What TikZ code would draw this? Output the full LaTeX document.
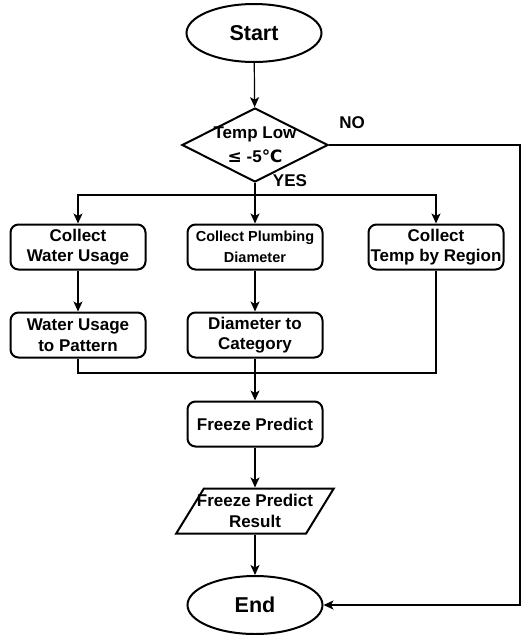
\documentclass[tikz,border=0pt]{standalone}
\usepackage{fontspec}
\setmainfont{Liberation Sans}
\newfontfamily\symfont{DejaVu Sans}
\usetikzlibrary{shapes.geometric}
\usetikzlibrary{arrows.meta}
\tikzset{>={Stealth[width=9pt,length=10pt,inset=2.5pt]}}
\tikzset{
  terminal/.style={ellipse, draw, line width=2pt, minimum width=135pt,
    minimum height=58pt, font=\fontsize{21.5}{24}\selectfont\bfseries},
  process/.style={rectangle, rounded corners=8pt, draw, line width=2pt,
    minimum width=135pt, minimum height=45pt, inner sep=0pt, align=center,
    font=\fontsize{17}{20.5}\selectfont\bfseries},
  decision/.style={diamond, draw, line width=2pt, aspect=2, inner sep=-4pt,
    minimum width=146pt, minimum height=74pt, align=center,
    font=\fontsize{17}{24}\selectfont\bfseries},
  data/.style={trapezium, trapezium left angle=50, trapezium right angle=130,
    trapezium stretches=true, draw, line width=2pt, minimum width=143pt,
    minimum height=45pt, inner ysep=0pt, inner xsep=-7pt, align=center,
    font=\fontsize{17}{20.5}\selectfont\bfseries},
  flowlabel/.style={font=\fontsize{17}{20}\selectfont\bfseries},
  link/.style={line width=1.2pt}
}

\begin{document}
\begin{tikzpicture}[x=1pt,y=-1pt]
  \useasboundingbox (0,0) rectangle (523,635);

  \node[terminal] (start) at (254,33) {Start};
  \node[decision] (templow) at (255,145)
    {Temp Low\\{\symfont ≤} -5{\symfont ℃}};

  \node[process] (collectwater) at (78,247) {Collect\\Water Usage};
  \node[process, font=\fontsize{14.5}{20.5}\selectfont\bfseries]
    (collectpipe) at (255,247) {Collect Plumbing\\Diameter};
  \node[process] (collecttemp) at (436,247) {Collect\\Temp by Region};

  \node[process] (waterpattern) at (78,335) {Water Usage\\to Pattern};
  \node[process] (pipecategory) at (255,335) {Diameter to\\Category};

  \node[process] (predict) at (255,424) {Freeze Predict};
  \node[data] (result) at (255,511) {Freeze Predict\\Result};
  \node[terminal] (end) at (255,605) {End};

  \node[flowlabel] (nolabel) at (352,123) {NO};
  \node[flowlabel] (yeslabel) at (290,181) {YES};

  \coordinate (split) at (255,195);
  \coordinate (merge) at (255,373);
  \coordinate (nocorner) at (520,145);

  \draw[link,->] (start) -- (templow);

  \draw[link] (templow) -- (split); %% yes branch
  \draw[link,->] (split) -| (collectwater);
  \draw[link,->] (split) -- (collectpipe);
  \draw[link,->] (split) -| (collecttemp);

  \draw[link,->] (collectwater) -- (waterpattern);
  \draw[link,->] (collectpipe) -- (pipecategory);

  \draw[link] (waterpattern) |- (merge); %% join
  \draw[link] (collecttemp) |- (merge);
  \draw[link,->] (pipecategory) -- (predict);

  \draw[link,->] (predict) -- (result);
  \draw[link,->] (result) -- (end);

  \draw[link,->] (templow.east) -- (nocorner) |- (end.east); %% no -> end

\end{tikzpicture}
\end{document}
